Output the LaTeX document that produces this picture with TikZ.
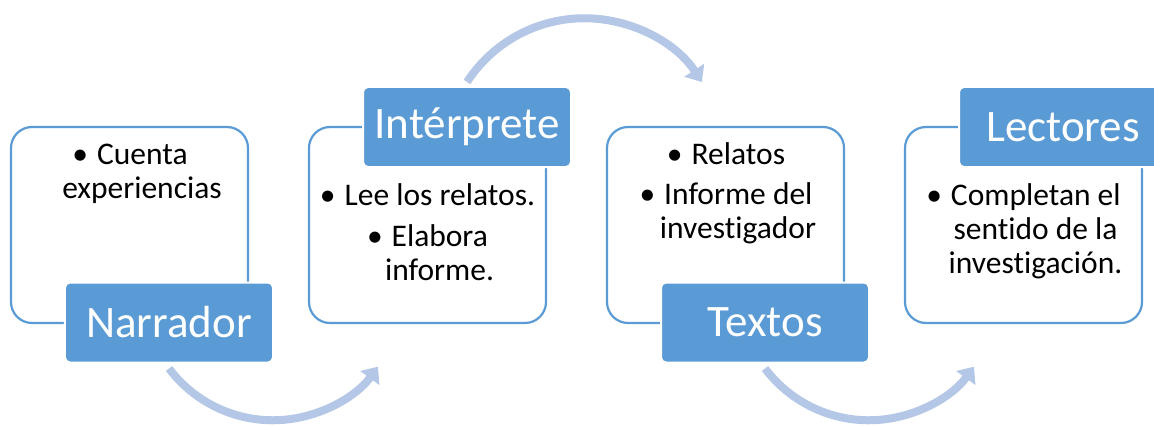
\documentclass[tikz,border=0pt]{standalone}
\usepackage{fontspec}
\setmainfont{Carlito}[Ligatures=NoCommon]
\usetikzlibrary{arrows.meta}

\definecolor{accent}{HTML}{5B9BD5}
\definecolor{flowblue}{HTML}{B4C7E7}

%% bullet with its gap, and the hanging indent of a wrapped line
\newcommand{\blt}{•\hspace{9bp}}
\newcommand{\hang}{\hspace*{24bp}}

\begin{document}
\begin{tikzpicture}[x=1bp,y=1bp]
        \tikzset{
          card/.style={draw=accent,line width=2.2bp,fill=white,rounded corners=21bp,
            minimum width=237bp,minimum height=196bp,inner sep=0pt},
          tag/.style={draw=white,line width=2bp,fill=accent,rounded corners=5bp,
            minimum width=208bp,minimum height=80bp,inner sep=0pt,
            text=white,font=\fontsize{45bp}{48bp}\selectfont},
          items/.style={anchor=base,align=center,inner sep=0pt,
            font=\fontsize{31.5bp}{34bp}\selectfont},
          flow/.style={draw=flowblue,line width=8bp,
            -{Triangle[width=23bp,length=14bp]}}
        }
        \useasboundingbox (0,0) rectangle (1154,426);

        %% Draw the cards, one every 298bp
        \foreach \i/\offset in {1/0, 2/298, 3/596, 4/894} {%
          \node[card] (card\i) at (129.5+\offset,201) {};
        }

        %% Card texts (base is the baseline of the last line)
        \node[items] (t1) at (130,228)    {\blt Cuenta\\ \hang experiencias};
        \node[items] (t2) at (427.5,146)  {\blt Lee los relatos.\\[7bp]
          \blt Elabora\\ \hang informe.};
        \node[items] (t3) at (726,188)    {\blt Relatos\\[6bp]
          \blt Informe del\\ \hang investigador};
        \node[items] (t4) at (1023.5,153) {\blt Completan el\\
          \hang sentido de la\\ \hang investigación.};

        %% Tags on the cards, alternating bottom and top
        \node[tag] (narr)   at (169,103.5) {Narrador};
        \node[tag] (interp) at (467,299)   {Intérprete};
        \node[tag] (texts)  at (765,103.5) {Textos};
        \node[tag] (read)   at (1063,299)  {Lectores};

        %% Curved arrows between the tags
        \draw[flow] ([yshift=-5bp]narr.south)
          arc[start angle=217,end angle=324,radius=130];
        \draw[flow] ([yshift=4bp]interp.north)
          arc[start angle=147,end angle=33,radius=140];
        \draw[flow] ([yshift=-5bp]texts.south)
          arc[start angle=217,end angle=324,radius=130];

      \end{tikzpicture}
\end{document}
